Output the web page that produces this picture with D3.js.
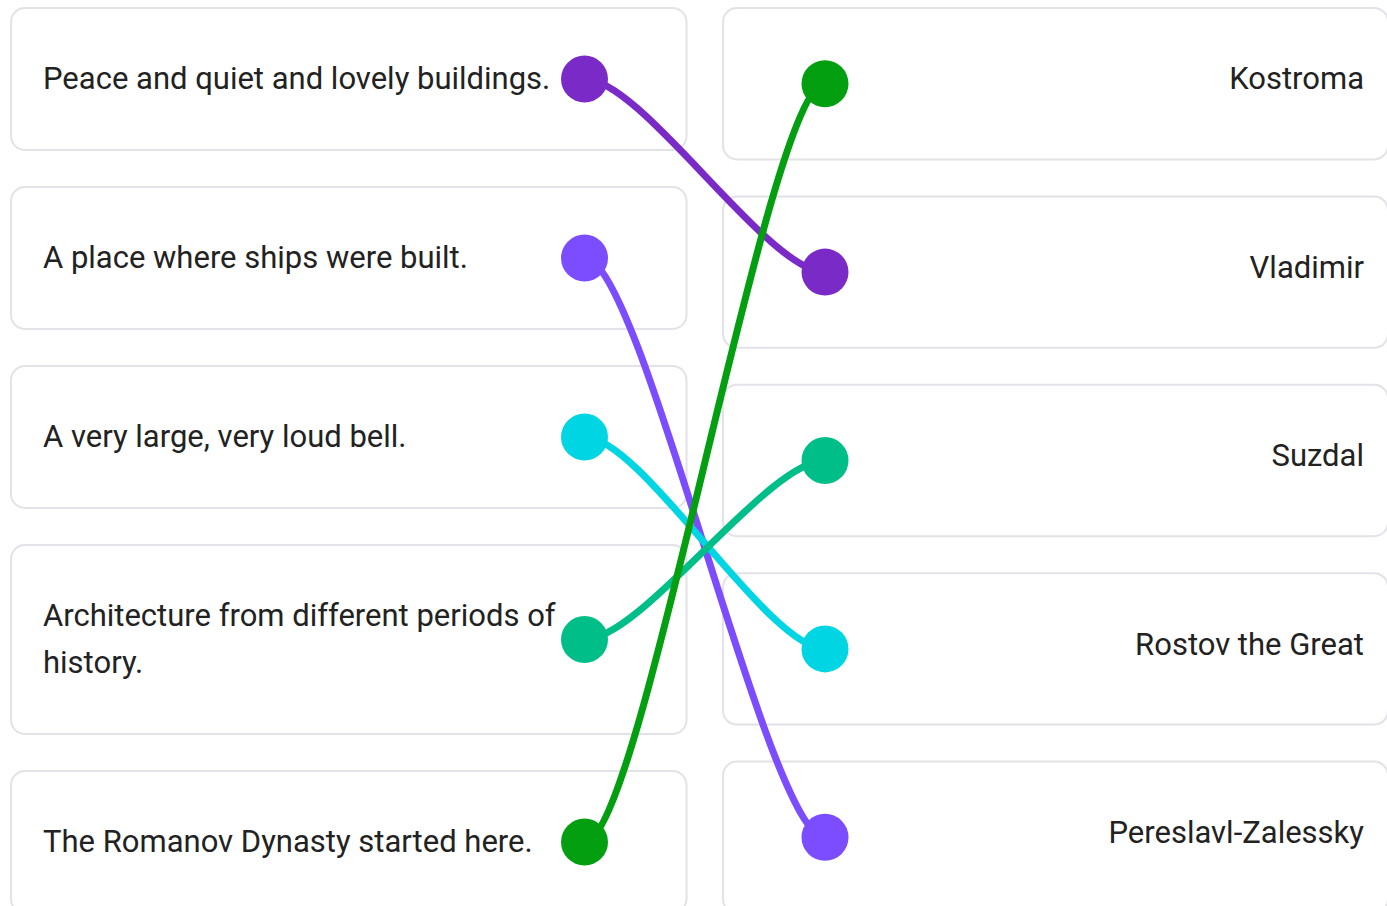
<!DOCTYPE html>
<html><head><meta charset="utf-8">
<script src="https://cdn.jsdelivr.net/npm/d3@7"></script>
<style>html,body{margin:0;padding:0;background:#fff;overflow:hidden}</style>
</head><body><svg id="c" width="1387" height="906"></svg>
<script>
// ---- data ----
const prompts = [
  ["Peace and quiet and lovely buildings."],
  ["A place where ships were built."],
  ["A very large, very loud bell."],
  ["Architecture from different periods of", "history."],
  ["The Romanov Dynasty started here."]
];
const answers = ["Kostroma", "Vladimir", "Suzdal", "Rostov the Great", "Pereslavl-Zalessky"];
const matchAnswer = [1, 4, 3, 2, 0]; // answer index chosen for each prompt
const matchColors = ["#7a2ac6", "#7c4dff", "#00d5e3", "#00be88", "#039f10"];

// ---- layout ----
const svg = d3.select("#c");
const top0 = 8, gap = 37, baseH = 142, lineH = 47;
const L = {x0: 11, x1: 686.5}, R = {x0: 723, x1: 1388};
const dotOff = 102, dotR = 23.5;
const fontSize = 31;

const leftH = prompts.map(p => baseH + (p.length - 1) * lineH);
const leftY = [];
leftH.reduce((acc, h, i) => { leftY[i] = acc; return acc + h + gap; }, top0);
const total = d3.sum(leftH) + gap * (prompts.length - 1);
const rightHv = (total - gap * (answers.length - 1)) / answers.length;
const yRight = d3.scaleLinear().domain([0, 1]).range([top0, top0 + rightHv + gap]);

const leftCenter = i => leftY[i] + leftH[i] / 2;
const rightCenter = j => yRight(j) + rightHv / 2;
const leftDotX = L.x1 - dotOff, rightDotX = R.x0 + dotOff;

const cardStyle = s => s.attr("fill", "#fff").attr("stroke", "#e2e2e8").attr("stroke-width", 2).attr("rx", 14);

// left cards
const lg = svg.append("g").selectAll("g").data(prompts).join("g");
lg.append("rect").attr("x", L.x0).attr("y", (d, i) => leftY[i])
  .attr("width", L.x1 - L.x0).attr("height", (d, i) => leftH[i]).call(cardStyle);
lg.append("text").attr("font-family", "Roboto, sans-serif").attr("font-size", fontSize).attr("fill", "#222")
  .each(function(d, i) {
    const b1 = leftCenter(i) + 10.3 - (d.length - 1) * lineH / 2;
    d3.select(this).selectAll("tspan").data(d).join("tspan")
      .attr("x", L.x0 + 32).attr("y", (t, k) => b1 + k * lineH).text(t => t);
  });

// right cards
const rg = svg.append("g").selectAll("g").data(answers).join("g");
rg.append("rect").attr("x", R.x0).attr("y", (d, j) => yRight(j))
  .attr("width", R.x1 - R.x0).attr("height", rightHv).call(cardStyle);
rg.append("text").attr("font-family", "Roboto, sans-serif").attr("font-size", fontSize).attr("fill", "#222")
  .attr("text-anchor", "end").attr("x", 1364).attr("y", (d, j) => rightCenter(j) + 5.7).text(d => d);

// links
const link = (x0, y0, x1, y1) => {
  const c = (x1 - x0) * 0.24;
  const p = d3.path();
  p.moveTo(x0, y0);
  p.bezierCurveTo(x0 + c, y0, x1 - c, y1, x1, y1);
  return p.toString();
};
const lk = svg.append("g").selectAll("g").data(prompts).join("g");
lk.append("path").attr("fill", "none").attr("stroke", (d, i) => matchColors[i]).attr("stroke-width", 7)
  .attr("d", (d, i) => link(leftDotX, leftCenter(i), rightDotX, rightCenter(matchAnswer[i])));
lk.append("circle").attr("cx", leftDotX).attr("cy", (d, i) => leftCenter(i)).attr("r", dotR)
  .attr("fill", (d, i) => matchColors[i]);
lk.append("circle").attr("cx", rightDotX).attr("cy", (d, i) => rightCenter(matchAnswer[i])).attr("r", dotR)
  .attr("fill", (d, i) => matchColors[i]);
</script>
</body></html>
